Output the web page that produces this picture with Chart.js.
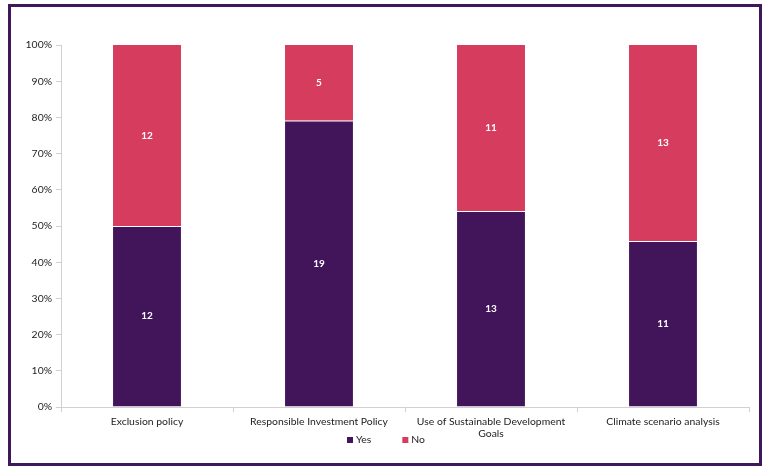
<!DOCTYPE html>
<html>
<head>
<meta charset="utf-8">
<script src="https://cdn.jsdelivr.net/npm/chart.js@4"></script>
<style>
html,body{margin:0;padding:0;background:#fff;}
#wrap{position:relative;width:768px;height:471px;}
canvas{display:block;}
</style>
</head>
<body>
<div id="wrap"><canvas id="c" width="768" height="471"></canvas></div>
<script>
const categories = ["Exclusion policy", "Responsible Investment Policy", ["Use of Sustainable Development", "Goals"], "Climate scenario analysis"];
const yesCounts = [12, 19, 13, 11];
const noCounts = [12, 5, 11, 13];
const yTickMax = 100;
const yTickStep = 10;

const totals = yesCounts.map((v, i) => v + noCounts[i]);
const yesPct = yesCounts.map((v, i) => v / totals[i] * 100);
const noPct = noCounts.map((v, i) => v / totals[i] * 100);

const FONT = "Lato, 'Noto Sans', sans-serif";
const FS = 10.4;

const borderPlugin = {
  id: 'frame',
  beforeDraw(chart) {
    const ctx = chart.ctx;
    ctx.save();
    ctx.fillStyle = '#fff';
    ctx.fillRect(0, 0, chart.width, chart.height);
    ctx.strokeStyle = '#40175A';
    ctx.lineWidth = 3;
    ctx.strokeRect(9.5, 5.5, 751, 459);
    ctx.restore();
  }
};

const labelPlugin = {
  id: 'segLabels',
  afterDatasetsDraw(chart) {
    const ctx = chart.ctx;
    ctx.save();
    ctx.fillStyle = '#fff';
    ctx.font = "bold 10px " + FONT;
    ctx.textAlign = 'center';
    ctx.textBaseline = 'middle';
    const counts = [yesCounts, noCounts];
    chart.data.datasets.forEach((ds, di) => {
      chart.getDatasetMeta(di).data.forEach((bar, i) => {
        const p = bar.getProps(['x', 'y', 'base'], true);
        ctx.fillText(String(counts[di][i]), p.x, (p.y + p.base) / 2);
      });
    });
    ctx.restore();
  }
};

const legendPlugin = {
  id: 'bottomLegend',
  afterDraw(chart) {
    const ctx = chart.ctx;
    ctx.save();
    ctx.font = FS + "px " + FONT;
    ctx.textBaseline = 'middle';
    ctx.textAlign = 'left';
    const box = 6, gap = 3, spacing = 31, cy = 440;
    const items = chart.data.datasets.map(ds => ({ text: ds.label, color: ds.backgroundColor, w: box + gap + ctx.measureText(ds.label).width }));
    const total = items.reduce((a, it) => a + it.w, 0) + spacing * (items.length - 1);
    let x = chart.width / 2 - total / 2 + 2;
    items.forEach(it => {
      ctx.fillStyle = it.color;
      ctx.fillRect(x, cy - box / 2, box, box);
      ctx.fillStyle = '#222';
      ctx.fillText(it.text, x + box + gap, cy);
      x += it.w + spacing;
    });
    ctx.restore();
  }
};

new Chart(document.getElementById('c'), {
  type: 'bar',
  data: {
    labels: categories,
    datasets: [
      { label: 'Yes', data: yesPct, backgroundColor: '#42155B', borderColor: 'rgba(255,255,255,0.55)', borderWidth: { top: 1, left: 0, right: 0, bottom: 0 }, borderSkipped: false, barPercentage: 0.79, categoryPercentage: 0.5 },
      { label: 'No', data: noPct, backgroundColor: '#D63C5E', borderWidth: 0, barPercentage: 0.79, categoryPercentage: 0.5 }
    ]
  },
  options: {
    responsive: false,
    animation: false,
    devicePixelRatio: 1,
    layout: { padding: { top: 45, right: 19, left: 0, bottom: 34 } },
    plugins: {
      legend: { display: false },
      tooltip: { enabled: false }
    },
    scales: {
      x: {
        stacked: true,
        grid: { display: true, drawOnChartArea: false, drawTicks: true, tickLength: 5, color: '#d0d0d0' },
        border: { color: '#d0d0d0' },
        ticks: { color: '#222', font: { family: FONT, size: FS }, padding: 3, maxRotation: 0, autoSkip: false },
        afterFit(s) { s.height = 30; }
      },
      y: {
        stacked: true,
        min: 0, max: yTickMax,
        grid: { display: true, drawOnChartArea: false, drawTicks: true, tickLength: 5, color: '#d0d0d0' },
        border: { color: '#d0d0d0' },
        ticks: { stepSize: yTickStep, color: '#222', font: { family: FONT, size: FS }, padding: 4, callback: v => v + '%' },
        afterFit(s) { s.width = 61; }
      }
    }
  },
  plugins: [borderPlugin, labelPlugin, legendPlugin]
});
</script>
</body>
</html>
